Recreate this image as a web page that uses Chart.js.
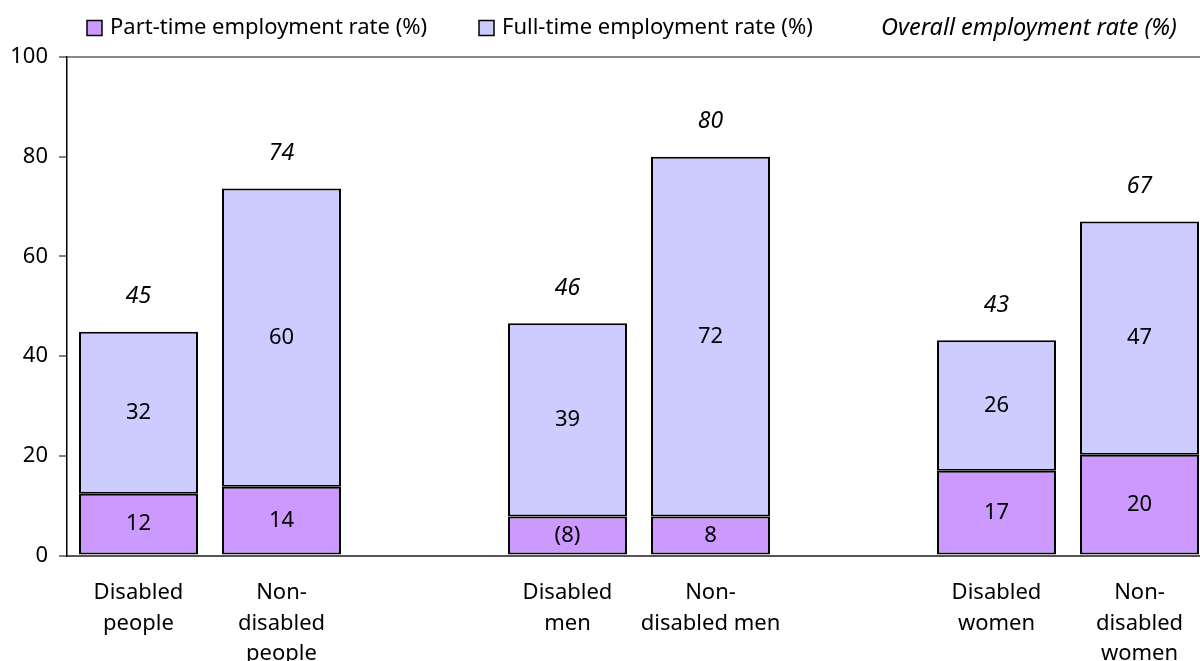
<!DOCTYPE html>
<html>
<head>
<meta charset="utf-8">
<script src="https://cdn.jsdelivr.net/npm/chart.js@4/dist/chart.umd.min.js"></script>
<style>
  html, body { margin: 0; padding: 0; background: #fff; overflow: hidden; }
  #wrap { width: 1200px; height: 661px; overflow: hidden; position: relative; }
  #c { position: absolute; left: 0; top: 0; }
</style>
</head>
<body>
<div id="wrap"><canvas id="c" width="1212" height="661" style="width:1212px;height:661px"></canvas></div>
<script>
// ---- Data ----
const categories = [
  ["Disabled", "people"],
  ["Non-", "disabled", "people"],
  "",
  ["Disabled", "men"],
  ["Non-", "disabled men"],
  "",
  ["Disabled", "women"],
  ["Non-", "disabled", "women"]
];
const partTime = [12.4, 13.8, null, 7.8, 7.8, null, 17.0, 20.2];
const fullTime = [32.5, 59.8, null, 38.8, 72.2, null, 26.2, 46.8];
const partTimeLabels = ["12", "14", "", "(8)", "8", "", "17", "20"];
const fullTimeLabels = ["32", "60", "", "39", "72", "", "26", "47"];
const overallLabels = ["45", "74", "", "46", "80", "", "43", "67"];
const yTicks = [0, 20, 40, 60, 80, 100];
const seriesNames = ["Part-time employment rate (%)", "Full-time employment rate (%)", "Overall employment rate (%)"];

const FONT = "'Noto Sans', 'Open Sans', sans-serif";
const FS = 22;

const labelPlugin = {
  id: 'labels',
  afterDatasetsDraw(chart) {
    const ctx = chart.ctx;
    ctx.save();
    ctx.fillStyle = '#000';
    ctx.textAlign = 'center';
    ctx.textBaseline = 'middle';
    const m0 = chart.getDatasetMeta(0), m1 = chart.getDatasetMeta(1);
    for (let i = 0; i < categories.length; i++) {
      if (partTime[i] == null) continue;
      const b0 = m0.data[i], b1 = m1.data[i];
      ctx.font = FS + "px " + FONT;
      ctx.fillText(partTimeLabels[i], b0.x, (b0.y + b0.base) / 2);
      ctx.fillText(fullTimeLabels[i], b1.x, (b1.y + b1.base) / 2);
      ctx.font = "italic 23px " + FONT;
      ctx.fillText(overallLabels[i], b1.x, b1.y - 35);
    }
    ctx.restore();
  }
};

const legendPlugin = {
  id: 'customLegend',
  afterDraw(chart) {
    const ctx = chart.ctx;
    ctx.save();
    ctx.textBaseline = 'middle';
    ctx.textAlign = 'left';
    const y = 28;
    const items = [
      {x: 87, color: '#CC99FF', text: seriesNames[0]},
      {x: 479, color: '#CCCCFF', text: seriesNames[1]}
    ];
    items.forEach(it => {
      ctx.fillStyle = it.color;
      ctx.fillRect(it.x, y - 7.5, 15, 15);
      ctx.strokeStyle = '#000';
      ctx.lineWidth = 1.5;
      ctx.strokeRect(it.x, y - 7.5, 15, 15);
      ctx.fillStyle = '#000';
      ctx.font = FS + "px " + FONT;
      ctx.fillText(it.text, it.x + 23, y);
    });
    ctx.font = "italic 23.5px " + FONT;
    ctx.fillText(seriesNames[2], 881, y);
    ctx.restore();
  }
};

new Chart(document.getElementById('c'), {
  type: 'bar',
  data: {
    labels: categories,
    datasets: [
      { label: seriesNames[0], data: partTime, backgroundColor: '#CC99FF', borderColor: '#000', borderWidth: 2, borderSkipped: false },
      { label: seriesNames[1], data: fullTime, backgroundColor: '#CCCCFF', borderColor: '#000', borderWidth: 2, borderSkipped: false }
    ]
  },
  options: {
    responsive: false,
    animation: false,
    devicePixelRatio: 1,
    layout: { padding: { top: 57, left: 0, right: 1, bottom: 0 } },
    datasets: { bar: { barPercentage: 0.832, categoryPercentage: 1.0 } },
    plugins: { legend: { display: false }, tooltip: { enabled: false } },
    scales: {
      x: {
        stacked: true,
        grid: { display: false, drawTicks: false },
        border: { display: true, color: '#555', width: 2 },
        ticks: {
          color: '#000', font: { family: FONT, size: FS, lineHeight: 1.39 },
          padding: 22, maxRotation: 0, autoSkip: false
        },
        afterFit(s) { s.height = 105.5; }
      },
      y: {
        stacked: true,
        min: 0, max: 100,
        afterBuildTicks(s) { s.ticks = yTicks.map(v => ({ value: v })); },
        grid: {
          drawOnChartArea: true,
          color: ctx => (ctx.tick && ctx.tick.value === 100) ? '#888' : 'rgba(0,0,0,0)',
          lineWidth: 2,
          tickColor: '#000', tickLength: 8, tickWidth: 1
        },
        border: { display: true, color: '#000', width: 1.5 },
        ticks: { color: '#000', font: { family: FONT, size: FS }, padding: 11 },
        afterFit(s) { s.width = 67; }
      }
    }
  },
  plugins: [labelPlugin, legendPlugin]
});
</script>
</body>
</html>
